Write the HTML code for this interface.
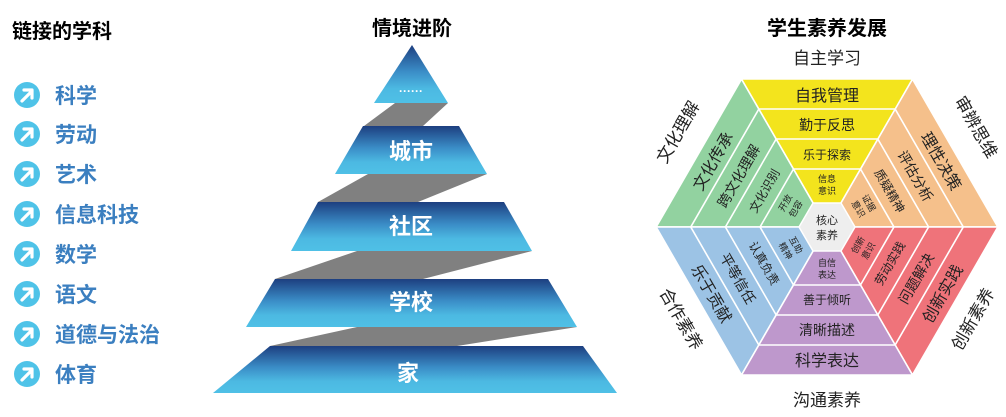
<!DOCTYPE html>
<html><head><meta charset="utf-8"><style>
html,body{margin:0;padding:0;background:#fff;width:1006px;height:417px;overflow:hidden}
svg{display:block;font-family:"Liberation Sans","Noto Sans CJK SC",sans-serif}
</style></head><body>
<svg width="1006" height="417" viewBox="0 0 1006 417" xmlns="http://www.w3.org/2000/svg">
<defs>
<linearGradient id="bg" x1="0" y1="0" x2="0" y2="1">
<stop offset="0" stop-color="#1d3f80"/><stop offset="0.45" stop-color="#3a8cc6"/><stop offset="0.75" stop-color="#4cb9e2"/><stop offset="1" stop-color="#4fc0e6"/>
</linearGradient>
<g id="arr"><circle r="13" fill="#4fc3e8"/><path d="M-5,6 L5,-4 M-3,-5 L5,-5 L5,3" stroke="#fff" stroke-width="3.2" fill="none" stroke-linecap="round" stroke-linejoin="round"/></g>
</defs>

<!-- Left list -->
<text x="12" y="38" font-size="20" font-weight="bold" fill="#000">链接的学科</text>
<g font-size="21" font-weight="bold" fill="#3b7fc0">
<use href="#arr" x="27" y="95"/><text x="55" y="103">科学</text>
<use href="#arr" x="27" y="134"/><text x="55" y="142">劳动</text>
<use href="#arr" x="27" y="174"/><text x="55" y="182">艺术</text>
<use href="#arr" x="27" y="214"/><text x="55" y="222">信息科技</text>
<use href="#arr" x="27" y="254"/><text x="55" y="262">数学</text>
<use href="#arr" x="27" y="294"/><text x="55" y="302">语文</text>
<use href="#arr" x="27" y="334"/><text x="55" y="342">道德与法治</text>
<use href="#arr" x="27" y="374"/><text x="55" y="382">体育</text>
</g>

<!-- Pyramid -->
<text x="412" y="35" font-size="20" font-weight="bold" text-anchor="middle" fill="#000">情境进阶</text>
<g fill="#808080">
<polygon points="395,103 448,103 423,126 364,126"/>
<polygon points="368,174 487,174 418,202 318,202"/>
<polygon points="357,251 532,251 423,279 275,279"/>
<polygon points="357,327 577,327 457,346 270,346"/>
</g>
<g fill="url(#bg)">
<polygon points="412,45 448,103 374,103"/>
<polygon points="363,126 459,126 487,174 335,174"/>
<polygon points="318,202 504,202 532,251 291,251"/>
<polygon points="275,279 548,279 577,327 246,327"/>
<polygon points="270,346 583,346 617,393 213,393"/>
</g>
<g fill="#fff" font-weight="bold" text-anchor="middle" font-size="22">
<text x="411" y="95" font-size="12">······</text>
<text x="411" y="159">城市</text>
<text x="411" y="234">社区</text>
<text x="411" y="310">学校</text>
<text x="408" y="381">家</text>
</g>

<!-- Hexagon -->
<text x="827" y="35" font-size="20" font-weight="bold" text-anchor="middle" fill="#000">学生素养发展</text>
<text x="827" y="64" font-size="17" text-anchor="middle" fill="#222">自主学习</text>
<text x="827" y="406" font-size="17" text-anchor="middle" fill="#222">沟通素养</text>
<g font-size="17" fill="#222" text-anchor="middle">
<text transform="translate(683,135) rotate(-60)">文化理解</text>
<text transform="translate(971,130) rotate(60)">审辨思维</text>
<text transform="translate(676,322) rotate(60)">合作素养</text>
<text transform="translate(978,322) rotate(-60)">创新素养</text>
</g>

<g id="topsec">
</g>
<!-- sector template: top triangle: (741.5,79) (912.5,79) (827,227) ; h=148 -->
<g stroke="#fff" stroke-width="1.6">
<g transform="rotate(-60 827 227)">
<polygon points="741.5,79 912.5,79 827,227" fill="#92d2a0"/>
<line x1="758.8" y1="109" x2="895.2" y2="109"/><line x1="776.2" y1="139" x2="877.8" y2="139"/><line x1="793.5" y1="169" x2="860.5" y2="169"/>
</g>
<g transform="rotate(60 827 227)">
<polygon points="741.5,79 912.5,79 827,227" fill="#f5c08b"/>
<line x1="758.8" y1="109" x2="895.2" y2="109"/><line x1="776.2" y1="139" x2="877.8" y2="139"/><line x1="793.5" y1="169" x2="860.5" y2="169"/>
</g>
<g>
<polygon points="741.5,79 912.5,79 827,227" fill="#f3e41d"/>
<line x1="758.8" y1="109" x2="895.2" y2="109"/><line x1="776.2" y1="139" x2="877.8" y2="139"/><line x1="793.5" y1="169" x2="860.5" y2="169"/>
</g>
<g transform="rotate(60 827 227)">
<polygon points="741.5,375 912.5,375 827,227" fill="#9cc3e5"/>
<line x1="758.8" y1="345" x2="895.2" y2="345"/><line x1="776.2" y1="315" x2="877.8" y2="315"/><line x1="793.5" y1="285" x2="860.5" y2="285"/>
</g>
<g transform="rotate(-60 827 227)">
<polygon points="741.5,375 912.5,375 827,227" fill="#ef737a"/>
<line x1="758.8" y1="345" x2="895.2" y2="345"/><line x1="776.2" y1="315" x2="877.8" y2="315"/><line x1="793.5" y1="285" x2="860.5" y2="285"/>
</g>
<g>
<polygon points="741.5,375 912.5,375 827,227" fill="#be98cc"/>
<line x1="758.8" y1="345" x2="895.2" y2="345"/><line x1="776.2" y1="315" x2="877.8" y2="315"/><line x1="793.5" y1="285" x2="860.5" y2="285"/>
</g>
</g>
<polygon points="855,227 841,251 813,251 799,227 813,203 841,203" fill="#eeeeee" stroke="#fff" stroke-width="1.5"/>
<text x="827" y="224" font-size="11" text-anchor="middle" fill="#222">核心</text>
<text x="827" y="239" font-size="11" text-anchor="middle" fill="#222">素养</text>

<!-- sector texts -->
<g fill="#222" text-anchor="middle">
<g>
<text x="827" y="101" font-size="16">自我管理</text>
<text x="827" y="130" font-size="14">勤于反思</text>
<text x="827" y="159" font-size="12">乐于探索</text>
<text x="827" y="182" font-size="9">信息</text><text x="827" y="194" font-size="9">意识</text>
</g>
<g transform="rotate(-60 827 227)">
<text x="827" y="101" font-size="16">文化传承</text>
<text x="827" y="130" font-size="14">跨文化理解</text>
<text x="827" y="159" font-size="12">文化识别</text>
<text x="827" y="182" font-size="9">开放</text><text x="827" y="194" font-size="9">包容</text>
</g>
<g transform="rotate(60 827 227)">
<text x="827" y="101" font-size="16">理性决策</text>
<text x="827" y="130" font-size="14">评估分析</text>
<text x="827" y="159" font-size="12">质疑精神</text>
<text x="827" y="182" font-size="9">证据</text><text x="827" y="194" font-size="9">意识</text>
</g>
<g>
<text x="827" y="366" font-size="16">科学表达</text>
<text x="827" y="335" font-size="14">清晰描述</text>
<text x="827" y="304" font-size="12">善于倾听</text>
<text x="827" y="266" font-size="9">自信</text><text x="827" y="278" font-size="9">表达</text>
</g>
<g transform="rotate(60 827 227)">
<text x="827" y="366" font-size="16">乐于贡献</text>
<text x="827" y="335" font-size="14">平等信任</text>
<text x="827" y="304" font-size="12">认真负责</text>
<text x="827" y="266" font-size="9">互助</text><text x="827" y="278" font-size="9">精神</text>
</g>
<g transform="rotate(-60 827 227)">
<text x="827" y="366" font-size="16">创新实践</text>
<text x="827" y="335" font-size="14">问题解决</text>
<text x="827" y="304" font-size="12">劳动实践</text>
<text x="827" y="266" font-size="9">创新</text><text x="827" y="278" font-size="9">意识</text>
</g>
</g>
</svg>
</body></html>
